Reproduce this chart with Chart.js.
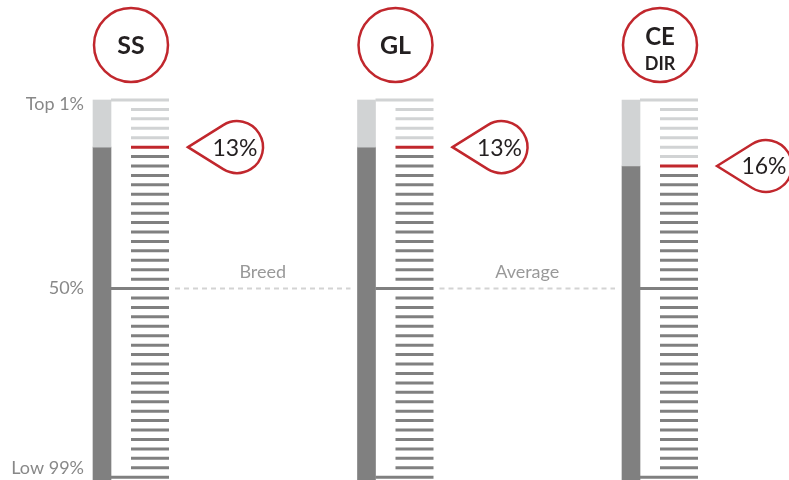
<!DOCTYPE html>
<html>
<head>
<meta charset="utf-8">
<script src="https://cdn.jsdelivr.net/npm/chart.js@4.4.0/dist/chart.umd.min.js"></script>
<style>
  html, body { margin: 0; padding: 0; background: #fff; }
  #wrap { width: 789px; height: 480px; }
</style>
</head>
<body>
<div id="wrap"><canvas id="c" width="789" height="480"></canvas></div>
<script>
// traits in the circles (one line per entry)
const traits = [["SS"], ["GL"], ["CE", "DIR"]];
// percentile rank shown in the badge
const rankPct = [13, 13, 16];
// step of the 40-step gauge where the red mark sits (0 = top, 40 = bottom)
const rankStep = [5, 5, 7];
// left axis labels
const yTickLabels = ["Top 1%", "50%", "Low 99%"];
// text over the dashed average line
const avgLabels = ["Breed", "Average"];

const STEPS = 40;
const MID = 20;

const LIGHT = "#d1d3d4";
const DARK = "#808080";
const RED = "#c1272d";
const TXT = "#231f20";
const LBL = "#888888";

//layout: pixels between two gauges, offsets from the bar centre
const PX = 264.5;
const off = px => px / PX;

const lightBars = traits.map((t, i) => ({ x: i, y: [0, rankStep[i]] }));
const darkBars = traits.map((t, i) => ({ x: i, y: [rankStep[i], STEPS + 0.3] }));

const shortTicks = [];
const longTicks = [];
traits.forEach((t, i) => {
  for (let s = 1; s < STEPS; s++) {
    if (s !== MID) shortTicks.push({ x: i + off(48), y: s, g: i });
  }
  [0, MID, STEPS].forEach(s => longTicks.push({ x: i + off(38), y: s, g: i }));
});

function tickColor(ctx) {
  const p = ctx.raw;
  if (!p) return DARK;
  const r = rankStep[p.g];
  return p.y < r ? LIGHT : p.y === r ? RED : DARK;
}

const dashSets = avgLabels.map((l, k) => ({
  type: "line",
  data: [{ x: k + off(73), y: MID }, { x: k + 1 - off(16), y: MID }],
  borderColor: "#d3d3d3",
  borderWidth: 2,
  borderDash: [5, 4],
  pointRadius: 0,
  clip: false
}));

//circles, badges, labels
const decor = {
  id: "decor",
  afterDatasetsDraw(chart) {
    const { ctx, scales: { x, y } } = chart;
    ctx.save();
    traits.forEach((lines, i) => {
      const bc = x.getPixelForValue(i);
      const cx = bc + 29;
      ctx.beginPath();
      ctx.arc(cx, 45, 37, 0, Math.PI * 2);
      ctx.fillStyle = "#fff";
      ctx.fill();
      ctx.lineWidth = 2.5;
      ctx.strokeStyle = RED;
      ctx.stroke();
      ctx.fillStyle = TXT;
      ctx.textAlign = "center";
      ctx.textBaseline = "middle";
      if (lines.length === 1) {
        ctx.font = "bold 25px Lato";
        ctx.fillText(lines[0], cx, 46);
      } else {
        ctx.font = "bold 24px Lato";
        ctx.fillText(lines[0], cx, 37);
        ctx.font = "bold 18px Lato";
        ctx.fillText(lines[1], cx, 64);
      }

      // badge: circle with tangent lines to a tip
      const tipX = bc + 86;
      const ty = y.getPixelForValue(rankStep[i]);
      const r = 26, d = 49, bx = tipX + d;
      const a = Math.acos(r / d);
      ctx.beginPath();
      ctx.moveTo(tipX, ty);
      ctx.arc(bx, ty, r, Math.PI + a, Math.PI - a);
      ctx.closePath();
      ctx.fillStyle = "#fff";
      ctx.fill();
      ctx.lineWidth = 2.5;
      ctx.strokeStyle = RED;
      ctx.stroke();
      ctx.fillStyle = TXT;
      ctx.font = "23px Lato";
      ctx.fillText(rankPct[i] + "%", bx - 2, ty + 1);
    });

    ctx.font = "18px Lato";
    ctx.fillStyle = "#999";
    ctx.textAlign = "center";
    ctx.textBaseline = "middle";
    avgLabels.forEach((l, k) => {
      const x0 = x.getPixelForValue(k + off(73));
      const x1 = x.getPixelForValue(k + 1 - off(16));
      ctx.fillText(l, (x0 + x1) / 2, y.getPixelForValue(MID) - 16);
    });
    ctx.restore();
  }
};

new Chart(document.getElementById("c"), {
  type: "bar",
  data: {
    datasets: [
      {
        type: "scatter",
        data: shortTicks,
        pointStyle: "line",
        pointRadius: 19,
        pointBorderWidth: 3,
        pointBorderColor: tickColor,
        clip: false
      },
      {
        type: "scatter",
        data: longTicks,
        pointStyle: "line",
        pointRadius: 29,
        pointBorderWidth: 3,
        pointBorderColor: tickColor,
        clip: false
      },
      ...dashSets,
      {
        data: lightBars,
        backgroundColor: LIGHT,
        barThickness: 18,
        grouped: false,
        clip: false
      },
      {
        data: darkBars,
        backgroundColor: DARK,
        barThickness: 18,
        grouped: false,
        clip: false
      }
    ]
  },
  options: {
    responsive: false,
    animation: false,
    events: [],
    layout: { autoPadding: false, padding: { top: 100, left: 0, right: 0, bottom: 0 } },
    plugins: { legend: { display: false }, tooltip: { enabled: false } },
    scales: {
      x: {
        type: "linear",
        display: false,
        offset: false,
        min: -9 / PX,
        max: (789 - 102) / PX
      },
      y: {
        type: "linear",
        reverse: true,
        min: 0,
        max: STEPS + 0.3,
        grid: { display: false, drawTicks: false },
        border: { display: false },
        afterBuildTicks(s) {
          s.ticks = [0.45, MID, 39].map(v => ({ value: v }));
        },
        afterFit(s) {
          s.width = 93;
          s.paddingTop = 0;
          s.paddingBottom = 0;
        },
        ticks: {
          callback: (v, i) => yTickLabels[i],
          padding: 9,
          color: LBL,
          font: { family: "Lato", size: 18 }
        }
      }
    }
  },
  plugins: [decor]
});
</script>
</body>
</html>
